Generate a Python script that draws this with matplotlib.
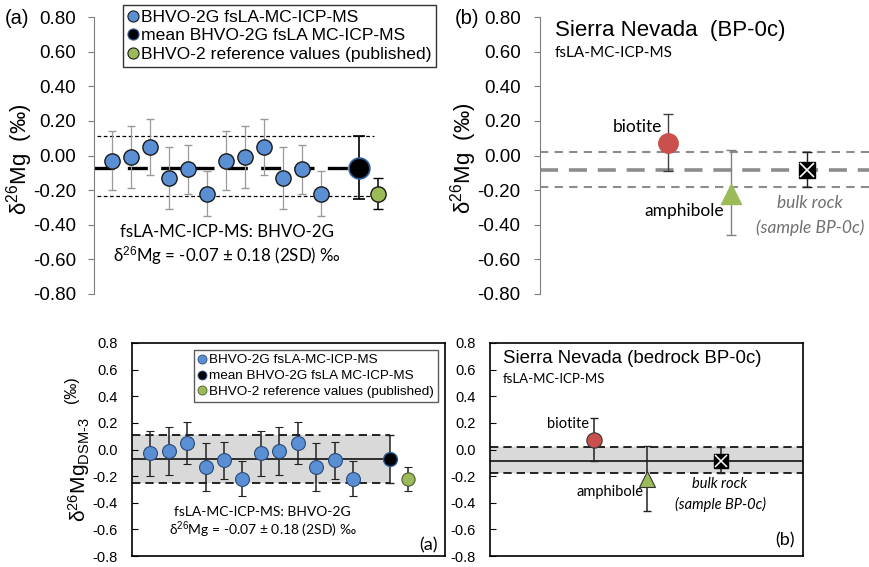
import numpy as np
import matplotlib
matplotlib.use("Agg")
import matplotlib.pyplot as plt
from matplotlib.lines import Line2D

plt.rcParams['font.family'] = ['Liberation Sans', 'DejaVu Sans']
plt.rcParams['mathtext.fontset'] = 'custom'
plt.rcParams['mathtext.rm'] = 'Liberation Sans'
plt.rcParams['mathtext.it'] = 'Liberation Sans:italic'
CAL = ['Lato', 'DejaVu Sans']

# datos BHVO-2G (fsLA-MC-ICP-MS), 12 puntos
n_pts = np.arange(1, 13)
d26 = [-0.03, -0.01, 0.05, -0.13, -0.08, -0.22, -0.03, -0.01, 0.05, -0.13, -0.08, -0.22]
err = [0.17, 0.18, 0.16, 0.18, 0.14, 0.13, 0.17, 0.18, 0.16, 0.18, 0.14, 0.13]
x_mean, mean_val, mean_err = 14, -0.07, 0.18
x_ref, ref_val, ref_err = 15, -0.22, 0.09

# Sierra Nevada BP-0c
minerales = ['biotite', 'amphibole', 'bulk rock']
sn_val = [0.075, -0.22, -0.085]
sn_top = [0.24, 0.03, 0.018]
sn_bot = [-0.09, -0.46, -0.18]
sn_x_top = [3.88, 5.82, 8.12]
sn_x_bot = [3.32, 5.02, 7.38]
bulk_lo, bulk_mean, bulk_hi = -0.18, -0.085, 0.02

yticks_top = [0.8, 0.6, 0.4, 0.2, 0.0, -0.2, -0.4, -0.6, -0.8]

W, H = 869, 567
fig = plt.figure(figsize=(W / 100, H / 100), dpi=100)

def ejes(l, t, r, b):
    return fig.add_axes([l / W, 1 - b / H, (r - l) / W, (b - t) / H])

BLUE = '#5b8fd3'
GREEN = '#9bbb59'
RED = '#c9504d'

# ---------------- panel superior izquierdo ----------------
ax = ejes(94, 17, 430, 294)
ax.set_xlim(1 - 18 / 19, 1 + 318 / 19)
ax.set_ylim(-0.8, 0.8)
for s in ['top', 'right', 'bottom']:
    ax.spines[s].set_visible(False)
ax.spines['left'].set_color('#7f7f7f')
ax.set_xticks([])
ax.set_yticks(yticks_top)
ax.set_yticklabels(['%.2f' % v for v in yticks_top], fontsize=13.5)
ax.tick_params(axis='y', direction='out', length=4, color='#7f7f7f', pad=9)
ax.patch.set_alpha(0)

ax.hlines([mean_val + mean_err, mean_val - 0.166], 0.2, 14.8, colors='k', linestyles=(0, (3, 2)), lw=0.9)
ax.hlines(mean_val, 0.05, 14, colors='k', linestyles=(0, (6, 4)), lw=2.4, zorder=2)
ax.errorbar(n_pts, d26, yerr=err, fmt='none', ecolor='#9a9a9a', elinewidth=0.9, capsize=3, zorder=3)
ax.plot(n_pts, d26, 'o', ms=11, mfc=BLUE, mec='#1a1a1a', mew=1, zorder=4)
ax.errorbar(x_mean, mean_val, yerr=mean_err, fmt='o', ms=15, mfc='k', mec='#2f5f9a', mew=1.2,
            ecolor='k', elinewidth=1.2, capsize=4, zorder=5)
ax.errorbar(x_ref, ref_val, yerr=ref_err, fmt='o', ms=11, mfc=GREEN, mec='#1a1a1a', mew=1,
            ecolor='k', elinewidth=1.1, capsize=3.5, zorder=5)
ax.text(7.05, -0.44, 'fsLA-MC-ICP-MS: BHVO-2G', ha='center', va='center', fontsize=12.2, family=CAL)
ax.text(7.05, -0.58, 'δ$^{26}$Mg = -0.07 ± 0.18 (2SD) ‰', ha='center', va='center', fontsize=12.2, family=CAL)

fig.text(5 / W, 1 - 18 / H, '(a)', fontsize=14.5, ha='left', va='center')
fig.text(20 / W, 1 - 159 / H, 'δ$^{26}$Mg  (‰)', fontsize=16, rotation=90, ha='center', va='center')

h_blue = Line2D([], [], ls='none', marker='o', ms=8, mfc=BLUE, mec='#1a1a1a', mew=0.8)
h_black = Line2D([], [], ls='none', marker='o', ms=8, mfc='k', mec='#2f5f9a', mew=0.8)
h_green = Line2D([], [], ls='none', marker='o', ms=8, mfc=GREEN, mec='#1a1a1a', mew=0.8)
etiquetas = ['BHVO-2G fsLA-MC-ICP-MS', 'mean BHVO-2G fsLA MC-ICP-MS', 'BHVO-2 reference values (published)']
leg = fig.legend([h_blue, h_black, h_green], etiquetas, loc='upper left',
                 bbox_to_anchor=(123 / W, 1 - 5 / H), fontsize=12.6, frameon=True, fancybox=False,
                 edgecolor='k', handlelength=0.6, handletextpad=0.2, labelspacing=0.2,
                 borderpad=0.25, borderaxespad=0)
leg.get_frame().set_linewidth(1.0)

# ---------------- panel superior derecho ----------------
ax = ejes(540, 17, 869, 294)
ax.set_xlim(0, 10)
ax.set_ylim(-0.8, 0.8)
for s in ['top', 'right', 'bottom']:
    ax.spines[s].set_visible(False)
ax.spines['left'].set_color('#7f7f7f')
ax.set_xticks([])
ax.set_yticks(yticks_top)
ax.set_yticklabels(['%.2f' % v for v in yticks_top], fontsize=13.5)
ax.tick_params(axis='y', direction='out', length=4, color='#7f7f7f', pad=10)
ax.patch.set_alpha(0)

ax.hlines([bulk_hi, bulk_lo], 0, 10, colors='#8c8c8c', linestyles=(0, (4, 3)), lw=1.5)
ax.hlines(bulk_mean, 0, 10, colors='#8c8c8c', linestyles=(0, (5, 3)), lw=2.6)
ecols = ['#404040', '#808080', '#202020']
for i in range(3):
    v = sn_val[i]
    ax.errorbar(sn_x_top[i], v, yerr=[[v - sn_bot[i]], [sn_top[i] - v]], fmt='none',
                ecolor=ecols[i], elinewidth=1, capsize=3.5, zorder=3)
ax.plot(sn_x_top[0], sn_val[0], 'o', ms=14, mfc=RED, mec=RED, zorder=4)
ax.plot(sn_x_top[1], sn_val[1], '^', ms=15, mfc=GREEN, mec=GREEN, zorder=4)
ax.plot(sn_x_top[2], sn_val[2], 's', ms=12, mfc='k', mec='k', zorder=4)
ax.plot(sn_x_top[2], sn_val[2], 'x', ms=10, mec='white', mew=1.2, zorder=5)

ax.text(0.45, 0.72, 'Sierra Nevada  (BP-0c)', fontsize=16, ha='left', va='center')
ax.text(0.45, 0.59, 'fsLA-MC-ICP-MS', fontsize=11, ha='left', va='center', family=CAL)
ax.text(3.7, 0.165, 'biotite', fontsize=12.5, ha='right', va='center', family=CAL)
ax.text(5.6, -0.32, 'amphibole', fontsize=12.5, ha='right', va='center', family=CAL)
ax.text(8.2, -0.275, 'bulk rock', fontsize=12.5, ha='center', va='center', family=CAL,
        style='italic', color='#707070')
ax.text(8.2, -0.42, '(sample BP-0c)', fontsize=12.5, ha='center', va='center', family=CAL,
        style='italic', color='#707070')

fig.text(455 / W, 1 - 18 / H, '(b)', fontsize=14.5, ha='left', va='center')
fig.text(464 / W, 1 - 158 / H, 'δ$^{26}$Mg  (‰)', fontsize=16, rotation=90, ha='center', va='center')

# ---------------- panel inferior izquierdo ----------------
yticks_bot = [0.8, 0.6, 0.4, 0.2, 0.0, -0.2, -0.4, -0.6, -0.8]
ax = ejes(132, 343, 445, 556)
ax.set_xlim(0, 17)
ax.set_ylim(-0.8, 0.8)
ax.set_xticks([])
ax.set_yticks(yticks_bot)
ax.set_yticklabels(['%.1f' % v for v in yticks_bot], fontsize=10.5)
ax.tick_params(axis='y', direction='in', length=4, pad=10)
for s in ax.spines.values():
    s.set_linewidth(1.2)

ax.fill_between([0, x_mean], mean_val - mean_err, mean_val + mean_err, color='#d9d9d9', lw=0, zorder=1)
ax.hlines([mean_val + mean_err, mean_val - mean_err], 0, x_mean, colors='k',
          linestyles=(0, (5, 3)), lw=1.2, zorder=2)
ax.hlines(mean_val, 0, x_mean, colors='k', lw=1.1, zorder=2)
ax.errorbar(n_pts, d26, yerr=err, fmt='o', ms=10, mfc=BLUE, mec='#2a4a78', mew=0.8,
            ecolor='#222222', elinewidth=1.1, capsize=3, zorder=4)
ax.errorbar(x_mean, mean_val, yerr=mean_err, fmt='o', ms=10, mfc='k', mec='#2f5f9a', mew=1,
            ecolor='#222222', elinewidth=1.1, capsize=3, zorder=5)
ax.errorbar(x_ref, ref_val, yerr=ref_err, fmt='o', ms=9.5, mfc=GREEN, mec='#4a5a2a', mew=0.8,
            ecolor='#222222', elinewidth=1.1, capsize=3, zorder=5)
ax.text(7.1, -0.47, 'fsLA-MC-ICP-MS: BHVO-2G', ha='center', va='center', fontsize=10, family=CAL)
ax.text(7.1, -0.6, 'δ$^{26}$Mg = -0.07 ± 0.18 (2SD) ‰', ha='center', va='center', fontsize=10, family=CAL)
ax.text(16.6, -0.72, '(a)', ha='right', va='center', fontsize=13, family=CAL)

hb = [Line2D([], [], ls='none', marker='o', ms=6.5, mfc=BLUE, mec='#2a4a78', mew=0.6),
      Line2D([], [], ls='none', marker='o', ms=6.5, mfc='k', mec='#2f5f9a', mew=0.6),
      Line2D([], [], ls='none', marker='o', ms=6.5, mfc=GREEN, mec='#4a5a2a', mew=0.6)]
leg = ax.legend(hb, etiquetas, loc='upper left', bbox_to_anchor=((194 - 132) / 313, 1 - 7 / 213),
                fontsize=9.7, frameon=True, fancybox=False, edgecolor='#333333', handlelength=0.6,
                handletextpad=0.2, labelspacing=0.25, borderpad=0.3, borderaxespad=0)
leg.get_frame().set_linewidth(1.0)

fig.text(79 / W, 1 - 470 / H, 'δ$^{26}$Mg$_{\\mathregular{DSM\u20113}}$', fontsize=15, rotation=90,
         ha='center', va='center')
fig.text(72 / W, 1 - 390 / H, '(‰)', fontsize=11.5, rotation=90, ha='center', va='center')

# ---------------- panel inferior derecho ----------------
ax = ejes(490, 343, 803, 556)
ax.set_xlim(0, 10)
ax.set_ylim(-0.8, 0.8)
ax.set_xticks([])
ax.set_yticks(yticks_bot)
ax.set_yticklabels(['%.1f' % v for v in yticks_bot], fontsize=10.5)
ax.tick_params(axis='y', direction='in', length=4, pad=10)
for s in ax.spines.values():
    s.set_linewidth(1.2)

ax.fill_between([0, 10], bulk_lo, bulk_hi, color='#d9d9d9', lw=0, zorder=1)
ax.hlines([bulk_hi, bulk_lo], 0, 10, colors='k', linestyles=(0, (5, 3)), lw=1.2, zorder=2)
ax.hlines(bulk_mean, 0, 10, colors='k', lw=1.1, zorder=2)
for i in range(3):
    v = sn_val[i]
    ax.errorbar(sn_x_bot[i], v, yerr=[[v - sn_bot[i]], [sn_top[i] - v]], fmt='none',
                ecolor='#222222', elinewidth=1.1, capsize=3, zorder=3)
ax.plot(sn_x_bot[0], sn_val[0], 'o', ms=11, mfc=RED, mec='#333333', mew=0.8, zorder=4)
ax.plot(sn_x_bot[1], sn_val[1], '^', ms=11, mfc=GREEN, mec='#333333', mew=0.8, zorder=4)
ax.plot(sn_x_bot[2], sn_val[2], 's', ms=10, mfc='k', mec='k', zorder=4)
ax.plot(sn_x_bot[2], sn_val[2], 'x', ms=8, mec='white', mew=1.1, zorder=5)

ax.text(0.42, 0.68, 'Sierra Nevada (bedrock BP-0c)', fontsize=13.4, ha='left', va='center')
ax.text(0.42, 0.53, 'fsLA-MC-ICP-MS', fontsize=9.5, ha='left', va='center', family=CAL)
ax.text(3.16, 0.195, 'biotite', fontsize=10.5, ha='right', va='center', family=CAL)
ax.text(4.9, -0.32, 'amphibole', fontsize=10.5, ha='right', va='center', family=CAL)
ax.text(7.35, -0.26, 'bulk rock', fontsize=10.5, ha='center', va='center', family=CAL, style='italic')
ax.text(7.35, -0.41, '(sample BP-0c)', fontsize=10.5, ha='center', va='center', family=CAL, style='italic')
ax.text(9.74, -0.68, '(b)', ha='right', va='center', fontsize=13, family=CAL)

fig.savefig('out.png', dpi=100)
